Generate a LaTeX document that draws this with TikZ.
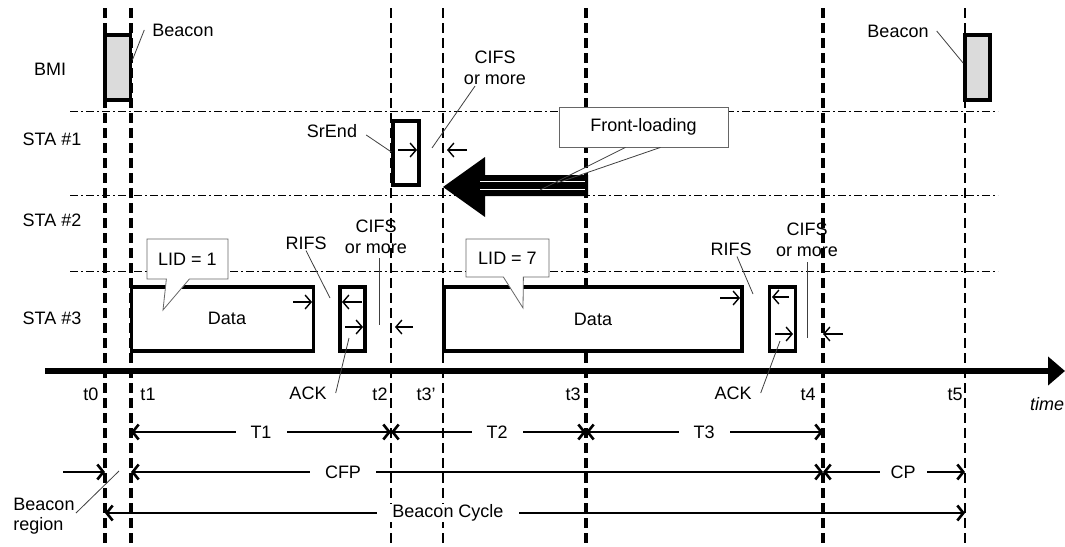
\documentclass[tikz,border=0pt]{standalone}
\usepackage{fontspec}
\setmainfont{Liberation Sans}
\usetikzlibrary{arrows.meta,shapes.callouts}
\begin{document}
\begin{tikzpicture}[x=1pt,y=-1pt,
  every node/.style={font=\fontsize{18}{21}\selectfont, inner sep=1pt},
  tthick/.style={line width=4pt, dash pattern=on 10pt off 5pt},
  tthin/.style={line width=2.6pt, dash pattern=on 10pt off 5pt},
  lane/.style={line width=0.9pt, dash pattern=on 8pt off 3pt on 2pt off 3pt},
  frame/.style={draw, line width=3.8pt, fill=white, inner sep=0pt},
  beacon/.style={frame, fill=black!14},
  lead/.style={draw=black!75, line width=0.8pt},
  tick/.style={line width=1.4pt, -{Straight Barb[length=6pt,width=14pt]}},
  dim/.style={line width=2.6pt, {Straight Barb[length=6pt,width=15pt]}-{Straight Barb[length=6pt,width=15pt]}},
  dimend/.style={line width=2.6pt, -{Straight Barb[length=6pt,width=15pt]}},
  dimlbl/.style={fill=white, inner xsep=15pt, inner ysep=1pt},
  callbox/.style={draw=black!60, line width=0.8pt, fill=white, inner sep=0pt}
]
\useasboundingbox (0,0) rectangle (1065,546);
\fill[white] (0,0) rectangle (1065,546);

% time points
\foreach \n/\x in {t0/105,t1/131,t2/391,t3p/443,t3/586,t4/823,t5/965}{
  \coordinate (\n) at (\x,8);
  \coordinate (\n-b) at (\x,546);
}
\coordinate (r1) at (0,432);
\coordinate (r2) at (0,472);
\coordinate (r3) at (0,513);

% lanes
\coordinate (l1a) at (70,111); \coordinate (l1b) at (998,111);
\coordinate (l2a) at (70,195); \coordinate (l2b) at (998,195);
\coordinate (l3a) at (70,271); \coordinate (l3b) at (998,271);
\draw[lane] (l1a) -- (l1b);
\draw[lane] (l2a) -- (l2b);
\draw[lane] (l3a) -- (l3b);

% vertical time lines
\draw[tthick] (t0) -- (t0-b);
\draw[tthick] (t1) -- (t1-b);
\draw[tthin] (t2) -- (t2-b);
\draw[tthin] (t3p) -- (t3p-b);
\draw[tthick] (t3) -- (t3-b);
\draw[tthick] (t4) -- (t4-b);
\draw[tthin] (t5) -- (t5-b);

% time axis
\coordinate (axL) at (45,371);
\coordinate (axR) at (1065,371);
\draw[line width=5.5pt, -{Triangle[length=17pt,width=28pt]}] (axL) -- (axR);
\node[font=\fontsize{18}{21}\selectfont\itshape] (timel) at (1047,404) {time};

% row labels
\node (bmi) at (50,69) {BMI};
\node (sta1) at (52,139) {STA \#1};
\node (sta2) at (52,220) {STA \#2};
\node (sta3) at (52,318) {STA \#3};

% boxes
\node[beacon, minimum width=25.5pt, minimum height=65pt] (b1) at (117.75,67.5) {};
\node[beacon, minimum width=25pt, minimum height=65pt] (b2) at (977.5,67.5) {};
\node[frame, line width=3.2pt, minimum width=26pt, minimum height=64pt] (sr) at (406,153) {};
\node[frame, minimum width=182pt, minimum height=64pt] (d1) at (222.5,319) {};
\node (d1t) at (227,318) {Data};
\node[frame, minimum width=25pt, minimum height=64pt] (a1) at (352.5,319) {};
\node[frame, minimum width=298pt, minimum height=64pt] (d2) at (593,319) {Data};
\node[frame, minimum width=26pt, minimum height=64pt] (a2) at (782.5,319) {};

% small interval arrows
\draw[tick] (398,150) -- (417,150);
\draw[tick] (467,150) -- (447,150);
\draw[tick] (293,302) -- (312,302);
\draw[tick] (362,302) -- (342,302);
\draw[tick] (345,327) -- (363,327);
\draw[tick] (413,327) -- (395,327);
\draw[tick] (720,298) -- (740,298);
\draw[tick] (789,297) -- (772,297);
\draw[tick] (775,334) -- (793,334);
\draw[tick] (843,334) -- (823,334);

% front-loading arrow
\fill (443,187) -- (485,157) -- (485,175) -- (588,175) -- (588,196) -- (485,196) -- (485,217) -- cycle;
\draw[white, line width=1.3pt] (480,181.5) -- (585,181.5) (480,189.5) -- (585,189.5);
\coordinate (fa1) at (540,190);
\coordinate (fa2) at (557,183);
\node[callbox, minimum width=169pt, minimum height=40pt] (fl) at (643.5,127) {Front-loading};
\draw[lead] ([xshift=-18pt]fl.south) -- (fa1);
\draw[lead] ([xshift=17pt]fl.south) -- (fa2);

% LID callouts
\node[rectangle callout, callbox, minimum width=81pt, minimum height=40pt,
  callout absolute pointer={(163,310)}, callout pointer width=23pt] (lid1) at (187.5,259) {LID = 1};
\node[rectangle callout, callbox, minimum width=83pt, minimum height=38pt,
  callout absolute pointer={(523,308)}, callout pointer width=20pt] (lid7) at (507.5,258) {LID = 7};

% labels with leaders
\node (bl1) at (183,30) {Beacon};
\draw[lead] ([xshift=-7pt]bl1.west) -- (b1.east |- 0,60);
\node (bl2) at (898,31) {Beacon};
\draw[lead] ([xshift=7pt]bl2.east) -- (b2.west |- 0,63);
\node (srl) at (332,131) {SrEnd};
\draw[lead] ([xshift=8pt,yshift=-4pt]srl.east) -- (sr.west |- 0,152);
\node[align=center] (c1) at (495,68) {CIFS\\or more};
\coordinate (c1e) at (432,148);
\draw[lead] ([xshift=-20pt]c1.south) -- (c1e);
\node (rl1) at (306,243) {RIFS};
\coordinate (rl1e) at (330,298);
\draw[lead] (rl1.south) -- (rl1e);
\node[align=center] (c2) at (376,237) {CIFS\\or more};
\coordinate (c2e) at (379,325);
\draw[lead] ([xshift=3pt,yshift=-3pt]c2.south) -- (c2e);
\node (ack1) at (308,393) {ACK};
\coordinate (ack1e) at (349,338);
\draw[lead] ([xshift=8pt]ack1.east) -- (ack1e);
\node (rl2) at (731,249) {RIFS};
\coordinate (rl2e) at (753,294);
\draw[lead] ([xshift=6pt]rl2.south) -- (rl2e);
\node[align=center] (c3) at (807,240) {CIFS\\or more};
\coordinate (c3e) at (807,338);
\draw[lead] ([yshift=-4pt]c3.south) -- (c3e);
\node (ack2) at (733,393) {ACK};
\coordinate (ack2e) at (780,341);
\draw[lead] ([xshift=8pt]ack2.east) -- (ack2e);
\node[align=left, font=\fontsize{18}{20}\selectfont] (breg) at (44,516) {Beacon\\region};
\coordinate (brege) at (119,471);
\draw[lead] (76,513) -- (brege);

% time labels
\node (lt0) at (91,394) {t0};
\node (lt1) at (148,394) {t1};
\node (lt2) at (380,394) {t2};
\node (lt3p) at (426,394) {t3'};
\node (lt3) at (573,394) {t3};
\node (lt4) at (808,394) {t4};
\node (lt5) at (955,394) {t5};

% dimension rows
\draw[dim] (t1 |- r1) -- (t2 |- r1);
\draw[dim] (t2 |- r1) -- (t3 |- r1);
\draw[dim] (t3 |- r1) -- (t4 |- r1);
\node[dimlbl] (T1) at (261,432) {T1};
\node[dimlbl] (T2) at (497,432) {T2};
\node[dimlbl] (T3) at (704,432) {T3};

\coordinate (cfpL) at (63,472);
\draw[dimend] (cfpL) -- (t0 |- r2);
\draw[dim] (t1 |- r2) -- (t4 |- r2);
\draw[dim] (t4 |- r2) -- (t5 |- r2);
\node[dimlbl] (cfp) at (343,472) {CFP};
\node[dimlbl, inner xsep=11pt] (cp) at (903,472) {CP};

\draw[dim] (t0 |- r3) -- (t5 |- r3);
\node[dimlbl] (bc) at (448,513) {Beacon Cycle};
\end{tikzpicture}
\end{document}
